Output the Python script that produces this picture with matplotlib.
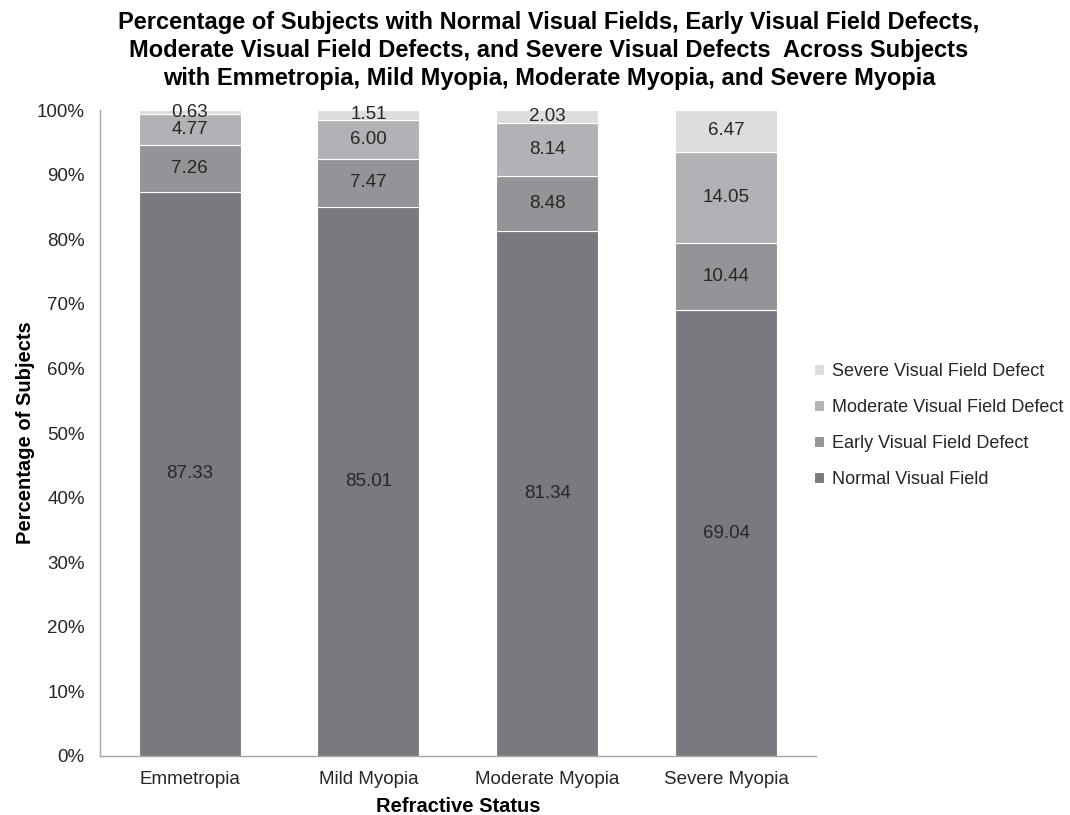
import numpy as np
import matplotlib
matplotlib.use("Agg")
import matplotlib.pyplot as plt

plt.rcParams["font.family"] = ["Liberation Sans", "DejaVu Sans"]

categories = ["Emmetropia", "Mild Myopia", "Moderate Myopia", "Severe Myopia"]
normal = [87.33, 85.01, 81.34, 69.04]
early = [7.26, 7.47, 8.48, 10.44]
moderate = [4.77, 6.00, 8.14, 14.05]
severe = [0.63, 1.51, 2.03, 6.47]
series_names = ["Normal Visual Field", "Early Visual Field Defect",
                "Moderate Visual Field Defect", "Severe Visual Field Defect"]
colors = ["#797a7f", "#939497", "#b1b2b5", "#dcdddf"]

title = ("Percentage of Subjects with Normal Visual Fields, Early Visual Field Defects,\n"
         "Moderate Visual Field Defects, and Severe Visual Defects  Across Subjects\n"
         "with Emmetropia, Mild Myopia, Moderate Myopia, and Severe Myopia")

fig = plt.figure(figsize=(10.7, 8.15), dpi=100)
ax = fig.add_axes([0.0935, 0.0724, 0.669, 0.7926])

x = np.arange(len(categories))
bottom = np.zeros(len(categories))
handles = []
for vals, name, col in zip([normal, early, moderate, severe], series_names, colors):
    vals = np.array(vals)
    bars = ax.bar(x, vals, 0.57, bottom=bottom, color=col, edgecolor="white",
                  linewidth=0.8, label=name)
    handles.append(bars)
    for xi, b, v in zip(x, bottom, vals):
        ax.text(xi, b + v / 2, f"{v:.2f}", ha="center", va="center",
                fontsize=13.5, color="#262626")
    bottom += vals

ax.set_xlim(-0.5, 3.5)
ax.set_ylim(0, 100)
ax.set_yticks(np.arange(0, 101, 10))
ax.set_yticklabels([f"{t}%" for t in range(0, 101, 10)])
ax.set_xticks(x)
ax.set_xticklabels(categories)
ax.tick_params(length=0, labelsize=13.5, labelcolor="#262626")
ax.tick_params(axis="y", pad=11)
ax.tick_params(axis="x", pad=11)
for s in ["top", "right"]:
    ax.spines[s].set_visible(False)
for s in ["left", "bottom"]:
    ax.spines[s].set_color("#a6a6a6")
    ax.spines[s].set_linewidth(1.0)

ax.set_xlabel("Refractive Status", fontsize=14.5, fontweight="bold", labelpad=6)
ax.set_ylabel("Percentage of Subjects", fontsize=14.5, fontweight="bold", labelpad=1)

fig.text(0.513, 0.986, title, ha="center", va="top", fontsize=17,
         fontweight="bold", linespacing=1.28)

leg = fig.legend(handles[::-1], series_names[::-1], loc="center left",
                 bbox_to_anchor=(0.746, 0.478), frameon=False, fontsize=13,
                 handlelength=0.55, handleheight=0.55, handletextpad=0.4,
                 labelspacing=1.04)
for t in leg.get_texts():
    t.set_color("#262626")

fig.savefig("out.png", dpi=100)
